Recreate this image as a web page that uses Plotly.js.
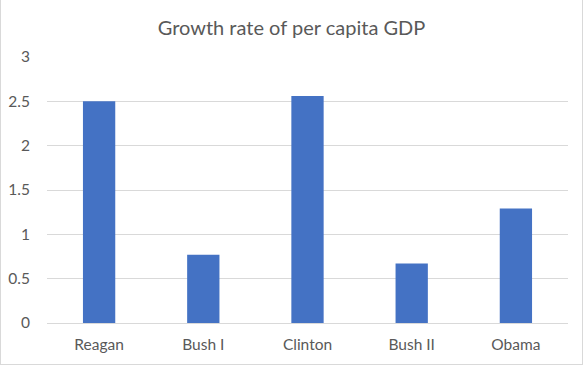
<!DOCTYPE html>
<html>
<head>
<meta charset="utf-8">
<script src="https://cdn.plot.ly/plotly-3.0.1.min.js"></script>
<style>
html,body{margin:0;padding:0;background:#fff;}
#wrap{position:relative;width:583px;height:367px;}
#chart{width:583px;height:367px;}
#frame{position:absolute;left:0;top:0;width:581px;height:364px;border:1px solid #d9d9d9;pointer-events:none;border-top:none;}
</style>
</head>
<body>
<div id="wrap"><div id="chart"></div><div id="frame"></div></div>
<script>
const presidents = ["Reagan", "Bush I", "Clinton", "Bush II", "Obama"];
const growthRate = [2.5, 0.77, 2.56, 0.67, 1.29];
const yTicks = [0, 0.5, 1, 1.5, 2, 2.5, 3];
const yTickLabels = ["0", "0.5", "1", "1.5", "2", "2.5", "3"];

const font = "Lato, 'Open Sans', 'DejaVu Sans', sans-serif";
Plotly.newPlot("chart", [{
  type: "bar",
  x: presidents,
  y: growthRate,
  marker: {color: "#4472C4"},
  hoverinfo: "x+y"
}], {
  width: 583, height: 367,
  margin: {l: 47, r: 15, t: 57, b: 44},
  paper_bgcolor: "#fff", plot_bgcolor: "#fff",
  bargap: 0.69,
  title: {text: "Growth rate of per capita GDP", x: 0.5, xanchor: "center", y: 0.925, yanchor: "middle",
          font: {family: font, size: 20, color: "#595959"}},
  xaxis: {showgrid: false, zeroline: false, showline: false, ticks: "",
          tickfont: {family: font, size: 15.5, color: "#595959"}, ticklabelstandoff: 10},
  yaxis: {range: [0, 3], tickvals: yTicks, ticktext: yTickLabels, showgrid: true,
          gridcolor: "#d9d9d9", gridwidth: 1, zeroline: true, zerolinecolor: "#d9d9d9", zerolinewidth: 1,
          showline: false, ticks: "", ticklabelstandoff: 16,
          tickfont: {family: font, size: 15.5, color: "#595959"}},
  showlegend: false
}, {displayModeBar: false, staticPlot: true});
</script>
</body>
</html>
